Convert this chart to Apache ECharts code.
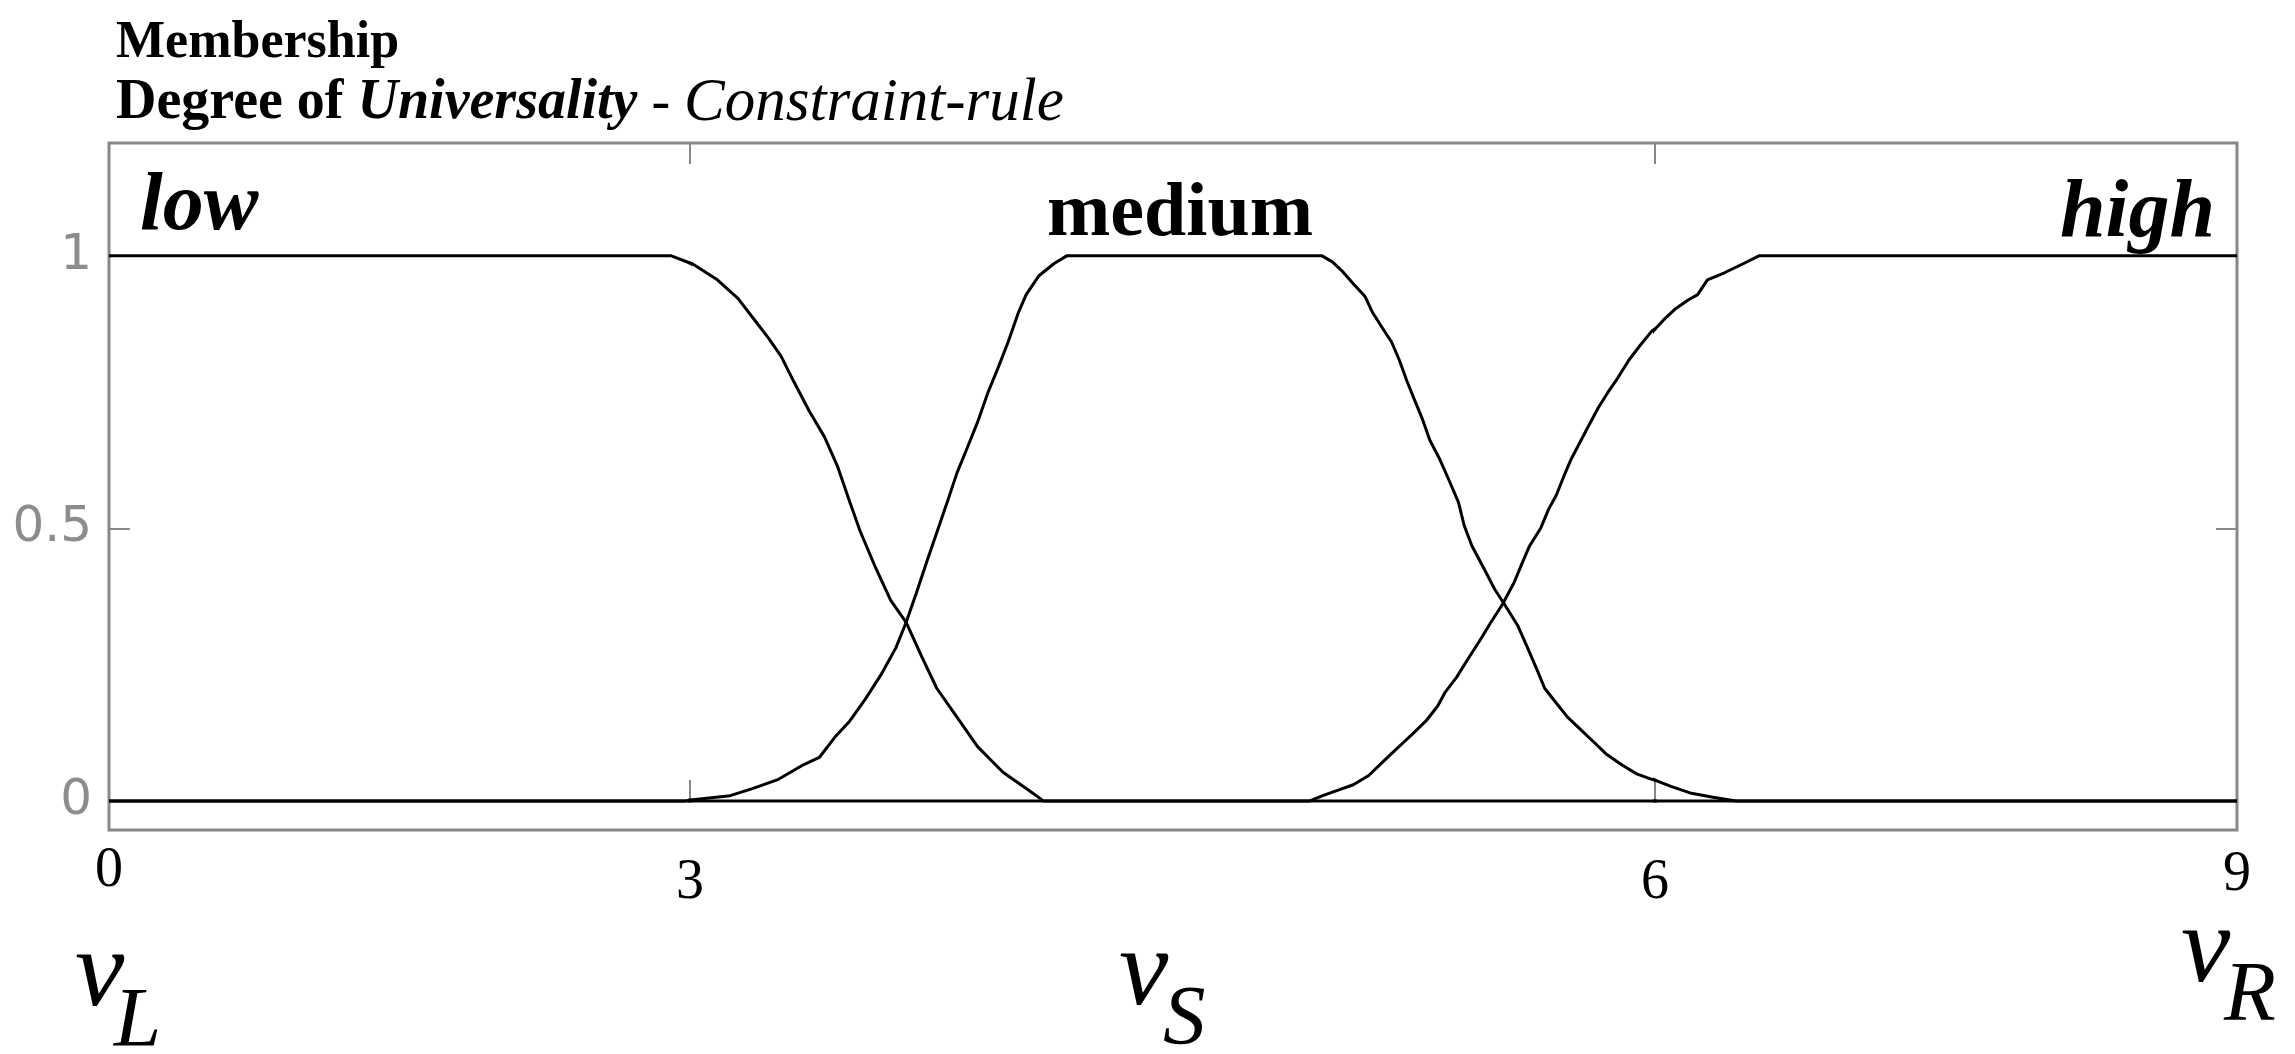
<!DOCTYPE html>
<html>
<head>
<meta charset="utf-8">
<title>Membership - Degree of Universality</title>
<script src="https://cdn.jsdelivr.net/npm/echarts@6/dist/echarts.min.js"></script>
<style>
  html, body { margin: 0; padding: 0; background: #fff; }
  #chart { width: 2295px; height: 1054px; }
</style>
</head>
<body>
<div id="chart"></div>
<script>
// tick labels: the x axis is drawn in three linear pieces (0-3, 3-6, 6-9)
var xTicks = [0, 3, 6, 9];
var yTicks = [0, 0.5, 1];
var yRange = [-0.053, 1.207];
var termNames = ['low', 'medium', 'high'];

// membership degree curves, [x, degree]
var lowCurve = [
    [0, 1], [2.904, 1], [3.006, 0.986], [3.085, 0.956], [3.149, 0.922], [3.196, 0.886],
    [3.244, 0.849], [3.283, 0.816], [3.323, 0.769], [3.371, 0.715], [3.418, 0.668],
    [3.458, 0.615], [3.497, 0.548], [3.529, 0.495], [3.577, 0.428], [3.624, 0.368],
    [3.672, 0.328], [3.719, 0.267], [3.767, 0.207], [3.830, 0.154], [3.894, 0.100],
    [3.973, 0.053], [4.053, 0.020], [4.100, 0], [9, 0]
];
var mediumCurve = [
    [0, 0], [2.969, 0], [3.125, 0.010], [3.194, 0.023], [3.275, 0.040], [3.354, 0.067],
    [3.402, 0.080], [3.450, 0.117], [3.497, 0.147], [3.545, 0.187], [3.593, 0.231],
    [3.640, 0.281], [3.672, 0.328], [3.704, 0.382], [3.735, 0.437], [3.767, 0.492],
    [3.799, 0.547], [3.830, 0.602], [3.862, 0.648], [3.894, 0.695], [3.926, 0.749],
    [3.958, 0.795], [3.989, 0.842], [4.021, 0.896], [4.045, 0.929], [4.084, 0.963],
    [4.132, 0.986], [4.171, 1],
    [4.965, 1], [4.997, 0.989], [5.026, 0.973], [5.062, 0.949], [5.098, 0.926],
    [5.122, 0.896], [5.151, 0.869], [5.181, 0.842], [5.205, 0.809], [5.229, 0.770],
    [5.253, 0.735], [5.276, 0.702], [5.300, 0.662], [5.330, 0.628], [5.360, 0.588],
    [5.389, 0.548], [5.407, 0.505], [5.431, 0.468], [5.467, 0.428], [5.502, 0.388],
    [5.532, 0.361], [5.574, 0.321], [5.604, 0.281], [5.633, 0.241], [5.657, 0.207],
    [5.693, 0.180], [5.728, 0.154], [5.764, 0.134], [5.812, 0.107], [5.847, 0.087],
    [5.895, 0.067], [5.943, 0.050], [5.990, 0.040], [6.082, 0.027], [6.181, 0.015],
    [6.299, 0.007], [6.418, 0], [9, 0]
];
var highCurve = [
    [0, 0], [4.925, 0], [4.967, 0.010], [5.015, 0.020], [5.062, 0.030], [5.110, 0.047],
    [5.145, 0.067], [5.181, 0.087], [5.217, 0.107], [5.253, 0.127], [5.288, 0.147],
    [5.324, 0.174], [5.348, 0.200], [5.383, 0.227], [5.419, 0.261], [5.455, 0.294],
    [5.490, 0.328], [5.526, 0.361], [5.562, 0.401], [5.586, 0.435], [5.610, 0.468],
    [5.645, 0.501], [5.669, 0.535], [5.693, 0.561], [5.716, 0.595], [5.740, 0.628],
    [5.764, 0.655], [5.788, 0.682], [5.824, 0.722], [5.853, 0.749], [5.883, 0.775],
    [5.919, 0.809], [5.954, 0.836], [5.990, 0.862], [6.043, 0.882], [6.102, 0.902],
    [6.171, 0.919], [6.220, 0.929], [6.270, 0.956], [6.358, 0.969], [6.457, 0.986],
    [6.536, 1], [9, 1]
];

var serif = '"Liberation Serif", "Times New Roman", serif';
var frameGray = '#888';

var myChart = echarts.init(document.getElementById('chart'));

// one line series per curve per axis piece, clipped by its grid
var curves = [lowCurve, mediumCurve, highCurve];
var series = [];
curves.forEach(function(pts, i) {
    for (var g = 0; g < 3; g++) {
        series.push({
            name: termNames[i],
            type: 'line',
            xAxisIndex: g,
            yAxisIndex: g,
            data: pts,
            showSymbol: false,
            clip: true,
            silent: true,
            lineStyle: { color: '#000', width: 3 }
        });
    }
});

function xLabel(margin) {
    return { margin: margin, fontFamily: serif, fontSize: 56, color: '#000',
        showMinLabel: true, showMaxLabel: true };
}
var tickStyle = { show: true, inside: true, length: 21, lineStyle: { color: frameGray, width: 2 } };

var option = {
    animation: false,
    backgroundColor: '#fff',
    grid: [
        { left: 109, right: 1605, top: 143, bottom: 224 },
        { left: 690, right: 640, top: 143, bottom: 224 },
        { left: 1655, right: 58, top: 143, bottom: 224 },
        // outer frame
        { left: 109, right: 58, top: 143, bottom: 224, show: true,
          borderColor: frameGray, borderWidth: 3, backgroundColor: 'transparent' }
    ],
    xAxis: [
        { gridIndex: 0, type: 'value', min: xTicks[0], max: xTicks[1],
          axisLine: { show: false }, axisTick: { show: false }, splitLine: { show: false },
          axisLabel: Object.assign(xLabel(13), { customValues: xTicks.slice(0, 1) }) },
        { gridIndex: 1, type: 'value', min: xTicks[1], max: xTicks[2],
          axisLine: { show: false }, splitLine: { show: false },
          axisTick: Object.assign({ customValues: xTicks.slice(1, 3) }, tickStyle),
          axisLabel: Object.assign(xLabel(25), { customValues: xTicks.slice(1, 3) }) },
        { gridIndex: 2, type: 'value', min: xTicks[2], max: xTicks[3],
          axisLine: { show: false }, axisTick: { show: false }, splitLine: { show: false },
          axisLabel: Object.assign(xLabel(17), { customValues: xTicks.slice(3) }) },
        // ticks on the top edge
        { gridIndex: 1, type: 'value', position: 'top', min: xTicks[1], max: xTicks[2],
          axisLine: { show: false }, splitLine: { show: false }, axisLabel: { show: false },
          axisTick: Object.assign({ customValues: xTicks.slice(1, 3) }, tickStyle) },
        { gridIndex: 3, type: 'value', show: false, min: 0, max: 9 }
    ],
    yAxis: [
        { gridIndex: 0, type: 'value', min: yRange[0], max: yRange[1],
          axisLine: { show: false }, splitLine: { show: false },
          axisTick: Object.assign({ customValues: yTicks }, tickStyle),
          axisLabel: { customValues: yTicks, margin: 17, fontFamily: '"DejaVu Sans", sans-serif',
                       fontSize: 50, color: '#8c8c8c' } },
        { gridIndex: 1, type: 'value', show: false, min: yRange[0], max: yRange[1] },
        { gridIndex: 2, type: 'value', position: 'right', min: yRange[0], max: yRange[1],
          axisLine: { show: false }, splitLine: { show: false }, axisLabel: { show: false },
          axisTick: Object.assign({ customValues: yTicks }, tickStyle) },
        { gridIndex: 3, type: 'value', show: false, min: yRange[0], max: yRange[1] }
    ],
    graphic: [
        { type: 'text', x: 116, y: 44, style: { text: 'Membership', fill: '#000',
          font: 'bold 52px ' + serif, verticalAlign: 'middle' } },
        { type: 'text', x: 116, y: 104, style: {
            text: '{a|Degree of }{b|Universality}{c| - }{d|Constraint-rule}',
            verticalAlign: 'middle',
            rich: {
                a: { fontFamily: serif, fontWeight: 'bold', fontSize: 56, fill: '#000' },
                b: { fontFamily: serif, fontWeight: 'bold', fontStyle: 'italic', fontSize: 56, fill: '#000' },
                c: { fontFamily: serif, fontSize: 56, fill: '#000' },
                d: { fontFamily: serif, fontStyle: 'italic', fontSize: 61, fill: '#000' }
            } } },
        // term names
        { type: 'text', x: 140, y: 208, style: { text: termNames[0], fill: '#000',
          font: 'italic bold 82px ' + serif, verticalAlign: 'middle' } },
        { type: 'text', x: 1047, y: 215, style: { text: termNames[1], fill: '#000',
          font: 'bold 76px ' + serif, verticalAlign: 'middle' } },
        { type: 'text', x: 2215, y: 215, style: { text: termNames[2], fill: '#000',
          font: 'italic bold 82px ' + serif, verticalAlign: 'middle', align: 'right' } },
        // v_L, v_S, v_R under the axis
        { type: 'text', x: 75, y: 976, style: { text: 'v', fill: '#000',
          font: 'italic 111px ' + serif, verticalAlign: 'middle' } },
        { type: 'text', x: 114, y: 1024, style: { text: 'L', fill: '#000',
          font: 'italic 85px ' + serif, verticalAlign: 'middle' } },
        { type: 'text', x: 1119, y: 975, style: { text: 'v', fill: '#000',
          font: 'italic 111px ' + serif, verticalAlign: 'middle' } },
        { type: 'text', x: 1163, y: 1022, style: { text: 'S', fill: '#000',
          font: 'italic 85px ' + serif, verticalAlign: 'middle' } },
        { type: 'text', x: 2181, y: 952, style: { text: 'v', fill: '#000',
          font: 'italic 111px ' + serif, verticalAlign: 'middle' } },
        { type: 'text', x: 2224, y: 998, style: { text: 'R', fill: '#000',
          font: 'italic 85px ' + serif, verticalAlign: 'middle' } }
    ],
    series: series
};

myChart.setOption(option);
</script>
</body>
</html>
